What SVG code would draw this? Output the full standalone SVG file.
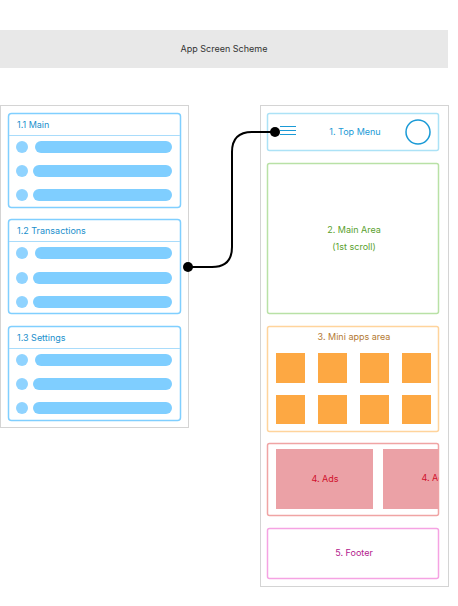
<svg xmlns="http://www.w3.org/2000/svg" width="458" height="606" viewBox="0 0 458 606">
<style>
text{font-family:Inter,"Noto Sans",sans-serif;font-size:9px}
.panel{fill:#fff;stroke:#d4d4d4;stroke-width:1}
.card{fill:#fff;stroke:#80cfff;stroke-width:1.5}
.div{stroke:#a9dcfb;stroke-width:1}
.ttl{fill:#1b8fcc}
.bar{fill:#7fceff}
.dot{fill:#8fd3ff}
.sq{fill:#fda843}
.ad{fill:#eba1a6}
</style>
<defs>
<clipPath id="adsclip"><rect x="268" y="444" width="170.5" height="71"/></clipPath>
</defs>
<g id="header">
<rect x="0" y="30" width="448" height="38" fill="#e8e8e8"/>
<text x="224" y="52" text-anchor="middle" fill="#333">App Screen Scheme</text>
</g>
<g id="left-panel">
<rect class="panel" x="0.5" y="105.5" width="188" height="322"/>
</g>
<g id="card-main">
<rect class="card" x="8.5" y="113.5" width="172" height="94" rx="3"/>
<line class="div" x1="9" y1="135.5" x2="180" y2="135.5"/>
<text class="ttl" x="17" y="128">1.1 Main</text>
<circle class="dot" cx="22" cy="147" r="6"/><rect class="bar" x="35" y="141" width="137" height="12" rx="6"/>
<circle class="dot" cx="22" cy="171" r="6"/><rect class="bar" x="33" y="165" width="139" height="12" rx="6"/>
<circle class="dot" cx="22" cy="195" r="6"/><rect class="bar" x="33" y="189" width="139" height="12" rx="6"/>
</g>
<g id="card-transactions">
<rect class="card" x="8.5" y="219.5" width="172" height="94" rx="3"/>
<line class="div" x1="9" y1="241.5" x2="180" y2="241.5"/>
<text class="ttl" x="17" y="234">1.2 Transactions</text>
<circle class="dot" cx="22" cy="253" r="6"/><rect class="bar" x="35" y="247" width="137" height="12" rx="6"/>
<circle class="dot" cx="22" cy="278" r="6"/><rect class="bar" x="33" y="272" width="139" height="12" rx="6"/>
<circle class="dot" cx="22" cy="302" r="6"/><rect class="bar" x="33" y="296" width="139" height="12" rx="6"/>
</g>
<g id="card-settings">
<rect class="card" x="8.5" y="326.5" width="172" height="94" rx="3"/>
<line class="div" x1="9" y1="348.5" x2="180" y2="348.5"/>
<text class="ttl" x="17" y="341">1.3 Settings</text>
<circle class="dot" cx="22" cy="360" r="6"/><rect class="bar" x="35" y="354" width="137" height="12" rx="6"/>
<circle class="dot" cx="22" cy="384" r="6"/><rect class="bar" x="33" y="378" width="139" height="12" rx="6"/>
<circle class="dot" cx="22" cy="408" r="6"/><rect class="bar" x="33" y="402" width="139" height="12" rx="6"/>
</g>
<g id="right-panel">
<rect class="panel" x="260.5" y="105.5" width="188" height="481"/>
</g>
<g id="top-menu">
<rect x="267.5" y="113.5" width="171" height="37" rx="2" fill="#fff" stroke="#ace2f6" stroke-width="1.5"/>
<g stroke="#1a9ad6" stroke-width="1">
<line x1="280" y1="126.5" x2="296" y2="126.5"/>
<line x1="280" y1="130.5" x2="296" y2="130.5"/>
<line x1="280" y1="134.5" x2="296" y2="134.5"/>
</g>
<text x="355" y="135" text-anchor="middle" fill="#1a9ad6">1. Top Menu</text>
<circle cx="418" cy="132" r="12" fill="none" stroke="#1a9ad6" stroke-width="1.5"/>
</g>
<g id="main-area">
<rect x="267.5" y="163.5" width="171" height="150" rx="2" fill="#fff" stroke="#b9e1a6" stroke-width="1.5"/>
<text x="354" y="233" text-anchor="middle" fill="#5a9f2e">2. Main Area</text>
<text x="354" y="250" text-anchor="middle" fill="#5a9f2e">(1st scroll)</text>
</g>
<g id="mini-apps">
<rect x="267.5" y="326.5" width="171" height="105" rx="2" fill="#fff" stroke="#ffd49c" stroke-width="1.5"/>
<text x="354" y="340" text-anchor="middle" fill="#b37a33">3. Mini apps area</text>
<rect class="sq" x="276" y="353" width="29" height="30"/>
<rect class="sq" x="318" y="353" width="29" height="30"/>
<rect class="sq" x="360" y="353" width="29" height="30"/>
<rect class="sq" x="402" y="353" width="29" height="30"/>
<rect class="sq" x="276" y="395" width="29" height="29"/>
<rect class="sq" x="318" y="395" width="29" height="29"/>
<rect class="sq" x="360" y="395" width="29" height="29"/>
<rect class="sq" x="402" y="395" width="29" height="29"/>
</g>
<g id="ads">
<rect x="267.5" y="443.5" width="171" height="72" rx="2" fill="#fff" stroke="#f0a4a4" stroke-width="1.5"/>
<rect class="ad" x="276" y="449" width="97" height="60"/>
<text x="325" y="482" text-anchor="middle" fill="#d0102b">4. Ads</text>
<g clip-path="url(#adsclip)">
<rect class="ad" x="383" y="449" width="97" height="60"/>
<text x="435" y="481" text-anchor="middle" fill="#d0102b">4. Ads</text>
</g>
</g>
<g id="footer">
<rect x="267.5" y="528.5" width="171" height="50" rx="2" fill="#fff" stroke="#f5a3e3" stroke-width="1.5"/>
<text x="354" y="556" text-anchor="middle" fill="#b3208d">5. Footer</text>
</g>
<g id="connectors">
<path d="M275 132 H252 Q232 132 232 152 V247 Q232 267 212 267 H188" fill="none" stroke="#000" stroke-width="2"/>
<circle cx="275" cy="132" r="5" fill="#000"/>
<circle cx="188" cy="267" r="5" fill="#000"/>
</g>
</svg>
